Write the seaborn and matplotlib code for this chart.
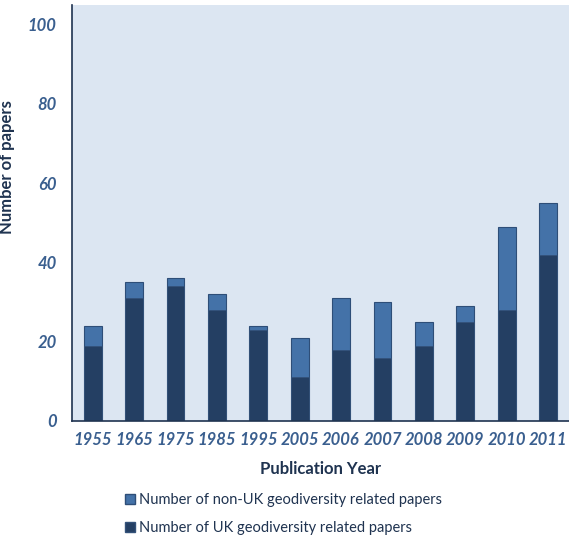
import numpy as np
import pandas as pd
import matplotlib.pyplot as plt
import seaborn as sns
from matplotlib.patches import Patch

# Données
years = ['1955', '1965', '1975', '1985', '1995', '2005', '2006', '2007', '2008', '2009', '2010', '2011']
uk_papers = [19, 31, 34, 28, 23, 11, 18, 16, 19, 25, 28, 42]
non_uk_papers = [5, 4, 2, 4, 1, 10, 13, 14, 6, 4, 21, 13]

DARK = '#243F63'
LIGHT = '#4472A8'
BG = '#DCE6F2'
TICK_COL = '#3A5F8F'
LABEL_COL = '#1F3350'

sns.set_style('white')
plt.rcParams['font.family'] = ['Lato', 'DejaVu Sans']

df = pd.DataFrame({
    'year': years,
    'uk': uk_papers,
    'total': np.array(uk_papers) + np.array(non_uk_papers),
})

fig = plt.figure(figsize=(5.69, 5.39), dpi=100)
ax = fig.add_axes([0.1265, 0.219, 0.873, 0.772])
ax.set_facecolor(BG)

# Barres empilées : total en clair, UK en foncé par-dessus
sns.barplot(data=df, x='year', y='total', color=LIGHT, saturation=1, width=0.43,
            edgecolor='#2E4E78', linewidth=0.8, ax=ax)
sns.barplot(data=df, x='year', y='uk', color=DARK, saturation=1, width=0.43,
            edgecolor='#34527A', linewidth=0.6, ax=ax)

ax.set_ylim(0, 105)
ax.set_xlim(-0.5, len(years) - 0.5)
ax.set_yticks([0, 20, 40, 60, 80, 100])
ax.set_xticks(np.arange(-0.5, len(years), 1.0), minor=True)
ax.tick_params(axis='x', which='major', length=0, pad=8)
ax.tick_params(axis='x', which='minor', length=5, color=LABEL_COL, width=1)
ax.tick_params(axis='y', length=5, color=LABEL_COL, width=1, pad=6)

for lab in ax.get_xticklabels() + ax.get_yticklabels():
    lab.set_fontstyle('italic')
    lab.set_fontweight('bold')
    lab.set_color(TICK_COL)
    lab.set_fontsize(12)

for s in ['top', 'right']:
    ax.spines[s].set_visible(False)
for s in ['left', 'bottom']:
    ax.spines[s].set_color(LABEL_COL)
    ax.spines[s].set_linewidth(1.2)

ax.set_xlabel('Publication Year', fontsize=12, fontweight='bold', color=LABEL_COL, labelpad=9)
ax.set_ylabel('Number of papers', fontsize=12, fontweight='bold', color=LABEL_COL)
ax.yaxis.set_label_coords(-0.115, 0.61)

handles = [Patch(facecolor=LIGHT, edgecolor='#2E4E78', label='Number of non-UK geodiversity related papers'),
           Patch(facecolor=DARK, edgecolor='#34527A', label='Number of UK geodiversity related papers')]
fig.legend(handles=handles, loc='lower left', bbox_to_anchor=(0.209, -0.004), frameon=False,
           borderaxespad=0, fontsize=10.5, handlelength=0.7, handleheight=0.7,
           handletextpad=0.3, labelspacing=1.0, labelcolor=LABEL_COL)

fig.savefig('out.png', dpi=100)
